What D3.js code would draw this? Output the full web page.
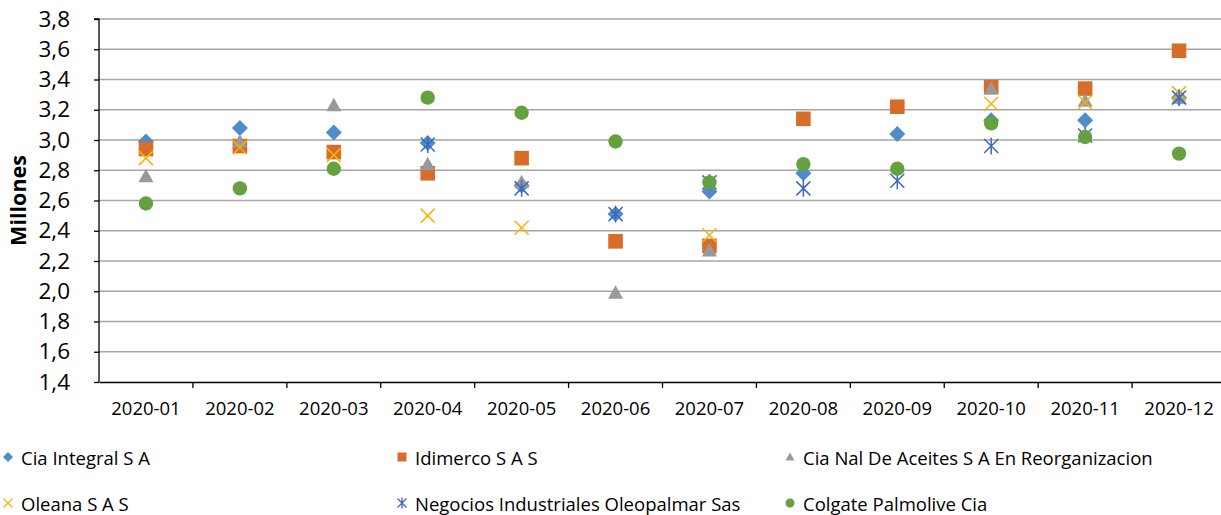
<!DOCTYPE html>
<html lang="es">
<head>
    <meta charset="UTF-8">
    <title>Millones por mes</title>
    <script src="https://cdn.jsdelivr.net/npm/d3@7"></script>
    <style>
        body, html { margin: 0; padding: 0; background: #fff; overflow: hidden; }
        svg { display: block; }
        text { font-family: "Open Sans", Lato, sans-serif; fill: #000; }
    </style>
</head>
<body>
    <svg id="mainsvg"></svg>
    <script>
        // datos
        const months = ['2020-01', '2020-02', '2020-03', '2020-04', '2020-05', '2020-06',
                        '2020-07', '2020-08', '2020-09', '2020-10', '2020-11', '2020-12'];
        const yTicks = [1.4, 1.6, 1.8, 2.0, 2.2, 2.4, 2.6, 2.8, 3.0, 3.2, 3.4, 3.6, 3.8];

        const ciaIntegral = [2.99, 3.08, 3.05, 2.98, 2.70, 2.51, 2.66, 2.78, 3.04, 3.13, 3.13, 3.28];
        const idimerco    = [2.94, 2.96, 2.92, 2.78, 2.88, 2.33, 2.30, 3.14, 3.22, 3.35, 3.34, 3.59];
        const ciaNal      = [2.76, 2.99, 3.23, 2.84, 2.72, 1.99, 2.27, null, null, 3.34, 3.26, 3.28];
        const oleana      = [2.88, 2.95, 2.90, 2.50, 2.42, null, 2.37, null, null, 3.24, 3.25, 3.31];
        const negocios    = [null, null, null, 2.97, 2.68, 2.51, 2.72, 2.68, 2.73, 2.96, 3.03, 3.28];
        const colgate     = [2.58, 2.68, 2.81, 3.28, 3.18, 2.99, 2.72, 2.84, 2.81, 3.11, 3.02, 2.91];

        const seriesNames = ['Cia Integral S A', 'Idimerco S A S', 'Cia Nal De Aceites S A En Reorganizacion',
                             'Oleana S A S', 'Negocios Industriales Oleopalmar Sas', 'Colgate Palmolive Cia'];
        const seriesValues = [ciaIntegral, idimerco, ciaNal, oleana, negocios, colgate];
        const seriesColors = ['#4f8cca', '#d86d2a', '#999999', '#f2b705', '#4068bd', '#65a13f'];
        const seriesShapes = ['diamond', 'square', 'triangle', 'x', 'star', 'circle'];

        const width = 1221, height = 515;
        const svg = d3.select('svg').attr('width', width).attr('height', height);

        const margin = { top: 19, left: 99, bottom: 133, right: -5 };
        const plotBottom = height - margin.bottom;

        const xScale = d3.scaleBand().domain(months).range([margin.left, width - margin.right]).padding(0);
        const yScale = d3.scaleLinear().domain([1.4, 3.8]).range([plotBottom, margin.top]);
        const fmt = d => d3.format('.1f')(d).replace('.', ',');

        // marcadores
        function markerPath(shape, s) {
            const p = d3.path();
            if (shape === 'diamond') {
                p.moveTo(0, -s); p.lineTo(s, 0); p.lineTo(0, s); p.lineTo(-s, 0); p.closePath();
            } else if (shape === 'square') {
                p.rect(-s, -s, 2 * s, 2 * s);
            } else if (shape === 'triangle') {
                p.moveTo(0, -s); p.lineTo(s, s * 0.8); p.lineTo(-s, s * 0.8); p.closePath();
            } else if (shape === 'circle') {
                p.arc(0, 0, s, 0, Math.PI * 2);
            } else if (shape === 'x') {
                p.moveTo(-s, -s); p.lineTo(s, s); p.moveTo(s, -s); p.lineTo(-s, s);
            } else if (shape === 'star') {
                p.moveTo(-s, -s); p.lineTo(s, s); p.moveTo(s, -s); p.lineTo(-s, s);
                p.moveTo(0, -s * 1.2); p.lineTo(0, s * 1.2);
            }
            return p.toString();
        }
        const markerSize = { diamond: 8, square: 7.3, triangle: 7.5, x: 7, star: 7, circle: 7.2 };

        // rejilla
        svg.append('g')
            .selectAll('line')
            .data(yTicks.slice(1))
            .join('line')
            .attr('x1', margin.left).attr('x2', width)
            .attr('y1', d => yScale(d)).attr('y2', d => yScale(d))
            .attr('stroke', '#a6a6a6').attr('stroke-width', 1.3);

        // eje y
        const yAxis = d3.axisLeft(yScale).tickValues(yTicks).tickFormat(fmt).tickSize(5).tickPadding(24);
        const yAxisGroup = svg.append('g').attr('transform', `translate(${margin.left},0)`).call(yAxis);
        yAxisGroup.select('.domain').attr('stroke', '#000').attr('stroke-width', 1.3).attr('d', `M-5,${margin.top}H0V${plotBottom}`);
        yAxisGroup.selectAll('.tick line').attr('stroke', '#000').attr('stroke-width', 1.3);
        yAxisGroup.selectAll('.tick text').attr('font-size', '22.5px');

        svg.append('text')
            .attr('transform', `translate(26,${(margin.top + plotBottom) / 2}) rotate(-90)`)
            .attr('text-anchor', 'middle')
            .attr('font-size', '21.5px').attr('font-weight', 'bold')
            .text('Millones');

        // eje x
        const xAxis = d3.axisBottom(xScale).tickSize(0).tickPadding(20);
        const xAxisGroup = svg.append('g').attr('transform', `translate(0,${plotBottom})`).call(xAxis);
        xAxisGroup.select('.domain').attr('stroke', '#000').attr('stroke-width', 1.3);
        xAxisGroup.selectAll('.tick text').attr('font-size', '18.5px');
        xAxisGroup.append('g')
            .selectAll('line')
            .data(months.slice(1))
            .join('line')
            .attr('x1', d => xScale(d)).attr('x2', d => xScale(d))
            .attr('y1', 0).attr('y2', 6)
            .attr('stroke', '#000').attr('stroke-width', 1.3);

        // puntos
        seriesValues.forEach((vals, i) => {
            const shape = seriesShapes[i];
            const filled = shape !== 'x' && shape !== 'star';
            svg.append('g')
                .selectAll('path')
                .data(months.map((m, j) => ({ m, v: vals[j] })).filter(d => d.v !== null))
                .join('path')
                .attr('transform', d => `translate(${xScale(d.m) + xScale.bandwidth() / 2},${yScale(d.v)})`)
                .attr('d', markerPath(shape, markerSize[shape]))
                .attr('fill', filled ? seriesColors[i] : 'none')
                .attr('stroke', seriesColors[i])
                .attr('stroke-width', filled ? 0 : 1.5);
        });

        // leyenda
        const legendCols = [8, 402, 790];
        const legendRows = [457, 503];
        const legend = svg.append('g');
        seriesNames.forEach((name, i) => {
            const shape = seriesShapes[i];
            const filled = shape !== 'x' && shape !== 'star';
            const g = legend.append('g')
                .attr('transform', `translate(${legendCols[i % 3]},${legendRows[Math.floor(i / 3)]})`);
            g.append('path')
                .attr('d', markerPath(shape, shape === 'diamond' ? 5 : 4.5))
                .attr('fill', filled ? seriesColors[i] : 'none')
                .attr('stroke', seriesColors[i])
                .attr('stroke-width', filled ? 0 : 1.3);
            g.append('text')
                .attr('x', 13).attr('y', 0)
                .attr('dominant-baseline', 'central')
                .attr('font-size', '18.5px')
                .text(name);
        });
    </script>
</body>
</html>
